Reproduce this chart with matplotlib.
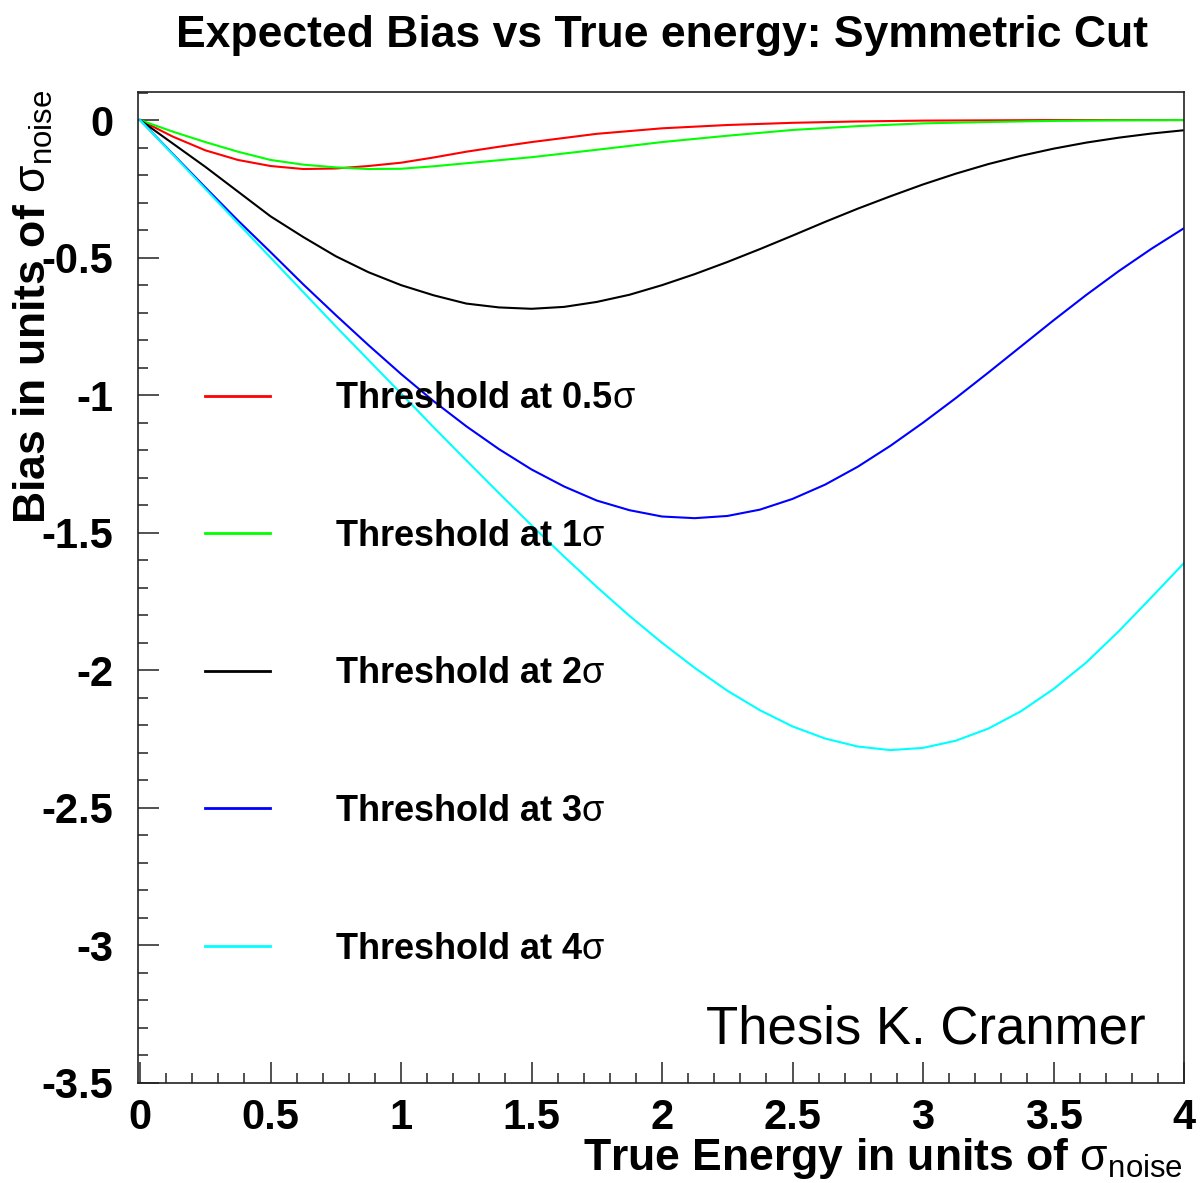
import matplotlib
matplotlib.use("Agg")
import matplotlib.pyplot as plt
from matplotlib.ticker import FixedLocator, MultipleLocator

plt.rcParams['font.family'] = ['Liberation Sans', 'DejaVu Sans']
plt.rcParams['axes.unicode_minus'] = False
plt.rcParams['mathtext.fontset'] = 'custom'
plt.rcParams['mathtext.rm'] = 'Liberation Sans'
plt.rcParams['mathtext.it'] = 'Liberation Sans:italic'
plt.rcParams['mathtext.bf'] = 'Liberation Sans:bold'

# ---- data ----
x_05 = [0, 0.125, 0.25, 0.375, 0.5, 0.625, 0.75, 0.875, 1.0, 1.125, 1.25, 1.375, 1.5,
        1.75, 2.0, 2.25, 2.5, 2.75, 3.0, 3.5, 4.0]
y_05 = [0, -0.06, -0.11, -0.145, -0.167, -0.178, -0.176, -0.167, -0.155, -0.136, -0.115,
        -0.097, -0.08, -0.05, -0.03, -0.018, -0.01, -0.005, -0.002, 0, 0]

x_1 = [0, 0.125, 0.25, 0.375, 0.5, 0.625, 0.75, 0.875, 1.0, 1.125, 1.25, 1.375, 1.5,
       1.75, 2.0, 2.25, 2.5, 2.75, 3.0, 3.25, 3.5, 3.75, 4.0]
y_1 = [0, -0.042, -0.08, -0.115, -0.145, -0.162, -0.172, -0.178, -0.177, -0.168, -0.157,
       -0.146, -0.135, -0.108, -0.08, -0.057, -0.036, -0.022, -0.012, -0.007, -0.003, -0.001, 0]

x_2 = [0, 0.125, 0.25, 0.375, 0.5, 0.625, 0.75, 0.875, 1.0, 1.125, 1.25, 1.375, 1.5,
       1.625, 1.75, 1.875, 2.0, 2.125, 2.25, 2.375, 2.5, 2.625, 2.75, 2.875, 3.0,
       3.125, 3.25, 3.375, 3.5, 3.625, 3.75, 3.875, 4.0]
y_2 = [0, -0.085, -0.17, -0.26, -0.35, -0.425, -0.495, -0.553, -0.60, -0.637, -0.667,
       -0.681, -0.686, -0.679, -0.661, -0.635, -0.60, -0.56, -0.516, -0.469, -0.42,
       -0.37, -0.322, -0.277, -0.234, -0.195, -0.16, -0.13, -0.104, -0.082, -0.064,
       -0.049, -0.037]

x_3 = [0, 0.125, 0.25, 0.375, 0.5, 0.625, 0.75, 0.875, 1.0, 1.125, 1.25, 1.375, 1.5,
       1.625, 1.75, 1.875, 2.0, 2.125, 2.25, 2.375, 2.5, 2.625, 2.75, 2.875, 3.0,
       3.125, 3.25, 3.375, 3.5, 3.625, 3.75, 3.875, 4.0]
y_3 = [0, -0.123, -0.245, -0.365, -0.48, -0.597, -0.709, -0.818, -0.923, -1.022, -1.113,
       -1.196, -1.27, -1.332, -1.383, -1.418, -1.441, -1.447, -1.439, -1.416, -1.377,
       -1.325, -1.26, -1.184, -1.10, -1.011, -0.918, -0.823, -0.728, -0.636, -0.549,
       -0.468, -0.393]

x_4 = [0, 0.125, 0.25, 0.375, 0.5, 0.625, 0.75, 0.875, 1.0, 1.125, 1.25, 1.375, 1.5,
       1.625, 1.75, 1.875, 2.0, 2.125, 2.25, 2.375, 2.5, 2.625, 2.75, 2.875, 3.0,
       3.125, 3.25, 3.375, 3.5, 3.625, 3.75, 3.875, 4.0]
y_4 = [0, -0.125, -0.25, -0.375, -0.5, -0.625, -0.75, -0.872, -0.994, -1.117, -1.237,
       -1.356, -1.473, -1.587, -1.697, -1.802, -1.90, -1.991, -2.074, -2.145, -2.204,
       -2.248, -2.277, -2.29, -2.282, -2.256, -2.212, -2.149, -2.068, -1.972, -1.858,
       -1.735, -1.61]

series_x = [x_05, x_1, x_2, x_3, x_4]
series_y = [y_05, y_1, y_2, y_3, y_4]
labels = [r"Threshold at 0.5$\mathrm{\sigma}$", r"Threshold at 1$\mathrm{\sigma}$",
          r"Threshold at 2$\mathrm{\sigma}$", r"Threshold at 3$\mathrm{\sigma}$",
          r"Threshold at 4$\mathrm{\sigma}$"]
colors = ['#ff0000', '#00ff00', '#000000', '#0000ff', '#00ffff']

xticks = [0, 0.5, 1, 1.5, 2, 2.5, 3, 3.5, 4]
xticklabels = ['0', '0.5', '1', '1.5', '2', '2.5', '3', '3.5', '4']
yticks = [0, -0.5, -1, -1.5, -2, -2.5, -3, -3.5]
yticklabels = ['0', '-0.5', '-1', '-1.5', '-2', '-2.5', '-3', '-3.5']

W, H = 1200, 1183
fig = plt.figure(figsize=(W / 100, H / 100), dpi=100)
ax = fig.add_axes([138 / W, 1 - 1083 / H, (1184 - 138) / W, (1083 - 92) / H])

for xs, ys, lab, c in zip(series_x, series_y, labels, colors):
    ax.plot(xs, ys, color=c, lw=1.5, label=lab, solid_joinstyle='round')

ax.set_xlim(-0.008, 4.0)
ax.set_ylim(-3.5, 0.102)

ax.xaxis.set_major_locator(FixedLocator(xticks))
ax.set_xticklabels(xticklabels)
ax.yaxis.set_major_locator(FixedLocator(yticks))
ax.set_yticklabels(yticklabels)
ax.xaxis.set_minor_locator(MultipleLocator(0.1))
ax.yaxis.set_minor_locator(MultipleLocator(0.1))
ax.tick_params(which='both', direction='in', top=False, right=False, width=1.1, color='#222222')
ax.tick_params(which='major', length=15)
ax.tick_params(which='minor', length=7)
ax.tick_params(axis='x', which='major', pad=11, labelsize=30)
ax.tick_params(axis='y', which='major', pad=18, labelsize=30)
for lab in ax.get_xticklabels() + ax.get_yticklabels():
    lab.set_fontweight('bold')
for sp in ax.spines.values():
    sp.set_linewidth(1.2)
    sp.set_color('#222222')

leg = ax.legend(loc='upper left', bbox_to_anchor=(0.064, 0.708), frameon=False,
                prop={'size': 26, 'weight': 'bold'}, handlelength=1.8, handletextpad=1.8,
                labelspacing=2.84, borderpad=0, borderaxespad=0)
for line in leg.get_lines():
    line.set_linewidth(2)

ax.text(0.963, 0.040, "Thesis K. Cranmer", transform=ax.transAxes, ha='right',
        va='baseline', fontsize=38)

fig.text(662 / W, 1 - 35 / H, "Expected Bias vs True energy: Symmetric Cut", ha='center',
         va='center', fontsize=32, fontweight='bold')
fig.text(1183 / W, 1 - 1181 / H, r"True Energy in units of $\mathrm{\sigma_{noise}}$",
         ha='right', va='bottom', fontsize=32, fontweight='bold')
fig.text(33 / W, 1 - 90 / H, r"Bias in units of $\mathrm{\sigma_{noise}}$", ha='center',
         va='top', rotation=90, fontsize=32, fontweight='bold')

fig.savefig("out.png", dpi=100)
